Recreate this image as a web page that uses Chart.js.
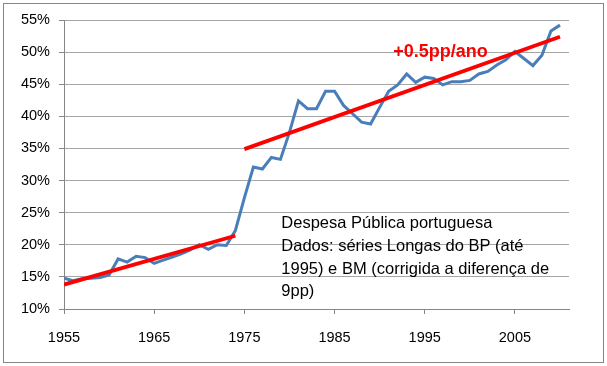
<!DOCTYPE html>
<html>
<head>
<meta charset="utf-8">
<script src="https://cdn.jsdelivr.net/npm/chart.js@4.4.0/dist/chart.umd.min.js"></script>
<style>
  body { margin: 0; background: #fff; }
</style>
</head>
<body>
<canvas id="chartDespesa" width="607" height="366"></canvas>
<script>
// ================== DATA ================ //
const ANOS = [
  1955, 1956, 1957, 1958, 1959, 1960, 1961, 1962, 1963, 1964,
  1965, 1966, 1967, 1968, 1969, 1970, 1971, 1972, 1973, 1974,
  1975, 1976, 1977, 1978, 1979, 1980, 1981, 1982, 1983, 1984,
  1985, 1986, 1987, 1988, 1989, 1990, 1991, 1992, 1993, 1994,
  1995, 1996, 1997, 1998, 1999, 2000, 2001, 2002, 2003, 2004,
  2005, 2006, 2007, 2008, 2009, 2010,
];

// despesa publica em % do PIB
const DESPESA = [
  14.8, 14.4, 14.7, 14.8, 14.9, 15.3, 17.8, 17.3, 18.2, 18.0,
  17.1, 17.6, 18.1, 18.6, 19.2, 20.0, 19.3, 20.0, 19.9, 22.2,
  27.3, 32.1, 31.8, 33.6, 33.3, 37.5, 42.4, 41.2, 41.2, 43.9,
  43.9, 41.7, 40.4, 39.1, 38.8, 41.4, 43.9, 44.9, 46.6, 45.3,
  46.1, 45.9, 44.9, 45.4, 45.4, 45.6, 46.6, 47.0, 48.0, 48.8,
  50.1, 49.0, 47.9, 49.5, 53.3, 54.2,
];

// tendencias (extremos de cada recta)
const TENDENCIA1_ANOS = [1955, 1974];
const TENDENCIA1_VALORES = [13.8, 21.4];
const TENDENCIA2_ANOS = [1975, 2010];
const TENDENCIA2_VALORES = [34.9, 52.4];

const TICKS_X = [1955, 1965, 1975, 1985, 1995, 2005];
const Y_MIN = 10;
const Y_MAX = 55;

const NOTA_TENDENCIA = "+0.5pp/ano";
const NOTA_FONTE = [
  "Despesa Pública portuguesa",
  "Dados: séries Longas do BP (até",
  "1995) e BM (corrigida a diferença de",
  "9pp)",
];

const AZUL = "#4a7ebb";
const VERMELHO = "#ff0000";
const CINZA = "#868686";

function toPoints(xs, ys) {
  return xs.map((x, i) => ({ x: x, y: ys[i] }));
}

// ================== PLUGINS ================ //
const molduraPlugin = {
  id: "moldura",
  beforeDraw(chart) {
    const ctx = chart.ctx;
    ctx.save();
    ctx.fillStyle = "#ffffff";
    ctx.fillRect(0, 0, chart.width, chart.height);
    ctx.restore();
  },
  afterDraw(chart) {
    const ctx = chart.ctx;
    ctx.save();
    ctx.strokeStyle = CINZA;
    ctx.lineWidth = 1;
    ctx.strokeRect(3.5, 3.5, chart.width - 7, chart.height - 7);
    ctx.restore();
  },
};

const notasPlugin = {
  id: "notas",
  afterDatasetsDraw(chart) {
    const ctx = chart.ctx;
    const xs = chart.scales.x;
    const ys = chart.scales.y;
    ctx.save();

    // +0.5pp/ano
    ctx.fillStyle = VERMELHO;
    ctx.font = "bold 18px 'Liberation Sans', Arial, sans-serif";
    ctx.textBaseline = "alphabetic";
    ctx.fillText(NOTA_TENDENCIA, xs.getPixelForValue(1991.5), ys.getPixelForValue(49.3));

    // caixa de texto
    ctx.fillStyle = "#000000";
    ctx.font = "16.5px 'Liberation Sans', Arial, sans-serif";
    const x0 = xs.getPixelForValue(1979.1);
    NOTA_FONTE.forEach((linha, i) => {
      ctx.fillText(linha, x0, ys.getPixelForValue(22.6 - i * 3.55));
    });
    ctx.restore();
  },
};

// ================== CHART ================ //
const canvas = document.getElementById("chartDespesa");

new Chart(canvas, {
  type: "line",
  data: {
    datasets: [
      {
        label: "Tendência 1955-1974",
        data: toPoints(TENDENCIA1_ANOS, TENDENCIA1_VALORES),
        borderColor: VERMELHO,
        borderWidth: 3.8,
        pointRadius: 0,
        order: 0,
      },
      {
        label: "Tendência 1975-2010",
        data: toPoints(TENDENCIA2_ANOS, TENDENCIA2_VALORES),
        borderColor: VERMELHO,
        borderWidth: 3.8,
        pointRadius: 0,
        order: 0,
      },
      {
        label: "Despesa Pública",
        data: toPoints(ANOS, DESPESA),
        borderColor: AZUL,
        borderWidth: 3,
        pointRadius: 0,
        tension: 0,
        order: 1,
      },
    ],
  },
  options: {
    responsive: false,
    animation: false,
    layout: {
      padding: { top: 20, right: 38, bottom: 0, left: 0 },
    },
    plugins: {
      legend: { display: false },
      tooltip: { enabled: false },
    },
    scales: {
      x: {
        type: "linear",
        min: 1955,
        max: 2011,
        afterBuildTicks: (scale) => {
          scale.ticks = TICKS_X.map((v) => ({ value: v }));
        },
        afterFit: (scale) => {
          scale.height = 57;
        },
        grid: {
          drawOnChartArea: false,
          drawTicks: true,
          tickLength: 5,
          tickColor: CINZA,
        },
        border: { display: true, color: CINZA, width: 1 },
        ticks: {
          color: "#000",
          padding: 15,
          maxRotation: 0,
          font: { family: "'Liberation Sans', Arial, sans-serif", size: 14.5 },
          callback: (v) => String(v),
        },
      },
      y: {
        min: Y_MIN,
        max: Y_MAX,
        afterFit: (scale) => {
          scale.width = 64;
        },
        grid: {
          color: "#a6a6a6",
          lineWidth: 1,
          drawTicks: true,
          tickLength: 5,
          tickColor: CINZA,
        },
        border: { display: true, color: CINZA, width: 1 },
        ticks: {
          stepSize: 5,
          color: "#000",
          padding: 9,
          font: { family: "'Liberation Sans', Arial, sans-serif", size: 14.5 },
          callback: (v) => v + "%",
        },
      },
    },
  },
  plugins: [molduraPlugin, notasPlugin],
});
</script>
</body>
</html>
